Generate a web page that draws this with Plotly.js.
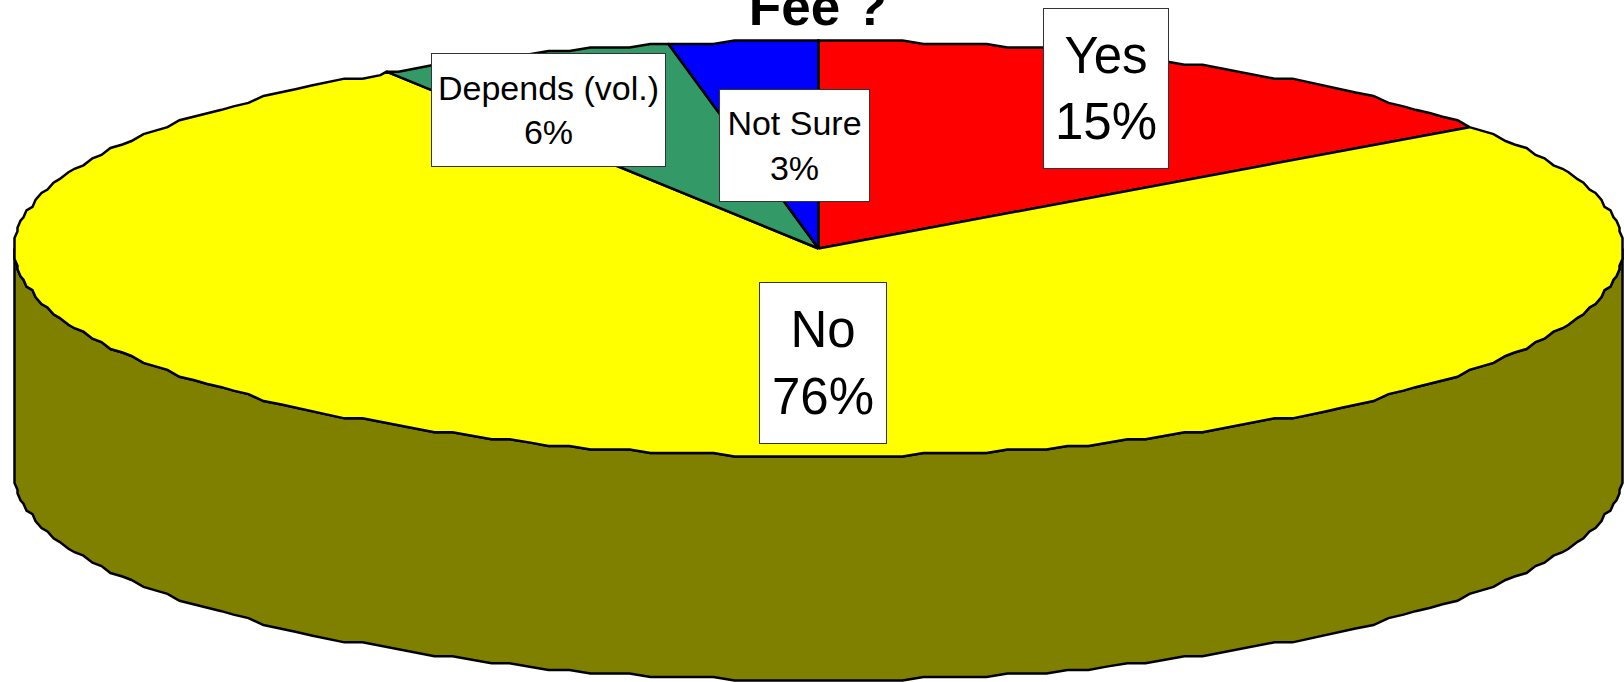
<!DOCTYPE html>
<html>
<head>
<meta charset="utf-8">
<script src="https://cdn.plot.ly/plotly-3.0.1.min.js"></script>
<style>html,body{margin:0;padding:0;background:#fff;overflow:hidden}</style>
</head>
<body>
<div id="chart" style="width:1624px;height:682px"></div>
<script>
const chartTitle = 'Fee ?';
const categories = ['Yes', 'No', 'Depends (vol.)', 'Not Sure'];
const shares = [15, 76, 6, 3];
const sliceColors = ['#FF0000', '#FFFF00', '#339966', '#0000FF'];
const wallColor = '#808000';
const labelFontSizes = [51, 51, 34, 34];
const labelBoxes = [[1043, 8, 1169, 169], [759, 282, 887, 444], [431, 53, 666, 167], [719, 89, 870, 202]];

const W = 1624, H = 682;
const cx = 818.5, cy = 248.5, rx = 804.5, ry = 208, depth = 224, gridY = 208 / 60, gridX = 3, stepDeg = 1.5;
const snap = (v, g) => Math.round(v / g) * g;

// point on the tilted disc, fraction f clockwise from 12 o'clock
function rim(f, dy) {
  const a = f * 2 * Math.PI;
  const x = Math.max(-rx, Math.min(rx, snap(rx * Math.sin(a), gridX)));
  return [cx + x, cy + snap(-ry * Math.cos(a), gridY) + (dy || 0)];
}
// all arcs share one set of sample angles, so adjoining edges coincide
function arc(f0, f1, dy) {
  const pts = [rim(f0, dy)];
  const first = Math.floor(f0 * 360 / stepDeg + 1e-9) + 1;
  for (let k = first; k * stepDeg / 360 < f1 - 1e-9; k++) pts.push(rim(k * stepDeg / 360, dy));
  pts.push(rim(f1, dy));
  return pts;
}
function poly(pts, color, name) {
  return {
    type: 'scatter', mode: 'lines', name: name, fill: 'toself', fillcolor: color,
    x: pts.map(p => p[0]), y: pts.map(p => p[1]),
    line: {color: '#000', width: 2.5, shape: 'linear'}, hoverinfo: 'name', showlegend: false
  };
}

const total = shares.reduce((a, b) => a + b, 0);
const traces = [];
// side wall of the disc: the front half of the rim, repeated lower down
traces.push(poly(arc(0.25, 0.75).concat(arc(0.25, 0.75, depth).reverse()).concat([rim(0.25)]), wallColor, 'wall'));
let acc = 0;
categories.forEach((c, i) => {
  const f0 = acc / total, f1 = (acc + shares[i]) / total;
  acc += shares[i];
  traces.push(poly([[cx, cy]].concat(arc(f0, f1)).concat([[cx, cy]]), sliceColors[i], c));
});

const annotations = categories.map((c, i) => {
  const b = labelBoxes[i];
  return {
    xref: 'x', yref: 'y', x: (b[0] + b[2]) / 2, y: (b[1] + b[3]) / 2,
    xanchor: 'center', yanchor: 'middle', align: 'center', valign: 'middle',
    width: b[2] - b[0] - 2, height: b[3] - b[1] - 2,
    text: c + '<br>' + shares[i] + '%', showarrow: false,
    bgcolor: '#fff', bordercolor: '#333', borderwidth: 1, borderpad: 0,
    font: {family: '"Liberation Sans", Arial, sans-serif', size: labelFontSizes[i], color: '#000'}
  };
});

Plotly.newPlot('chart', traces, {
  width: W, height: H, margin: {l: 0, r: 0, t: 0, b: 0},
  paper_bgcolor: '#fff', plot_bgcolor: '#fff',
  title: {
    text: chartTitle, xref: 'paper', yref: 'paper', x: 0.5037, xanchor: 'center',
    y: 0.963, yanchor: 'bottom', pad: {t: 0, b: 0, l: 0, r: 0},
    font: {family: '"Liberation Sans", Arial, sans-serif', size: 53, color: '#000', weight: 'bold'}
  },
  xaxis: {range: [0, W], visible: false, fixedrange: true},
  yaxis: {range: [H, 0], visible: false, fixedrange: true},
  annotations: annotations, showlegend: false
}, {displayModeBar: false});
</script>
</body>
</html>
